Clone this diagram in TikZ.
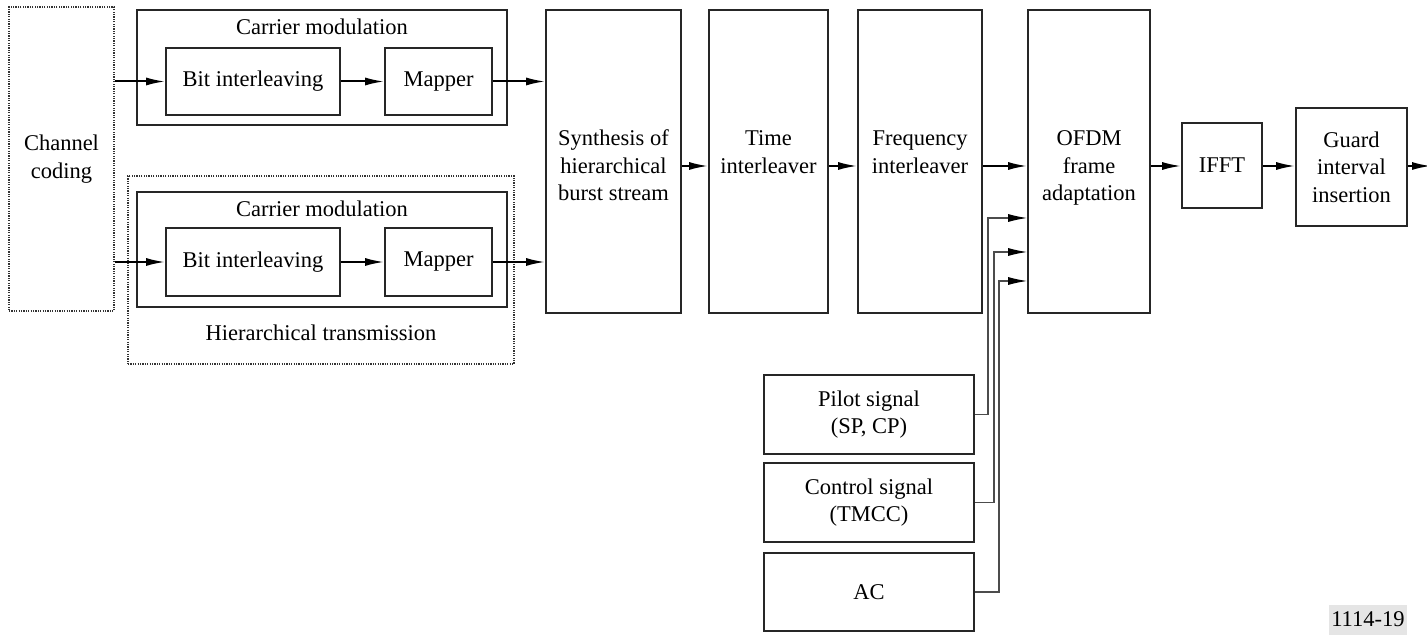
\documentclass[tikz,border=0pt]{standalone}
\usepackage{fontspec}
\setmainfont{Liberation Serif}
\usetikzlibrary{arrows.meta}

% one unit of the picture is one pixel of the layout
\def\px{0.5pt}

\tikzset{
  box/.style={draw=black!85, line width=0.8pt, inner sep=0pt, align=center},
  dotbox/.style={draw=black!80, line width=0.6pt, dash pattern=on 0.6pt off 0.6pt, inner sep=0pt, align=center},
  txt/.style={inner sep=0pt, align=center},
  flow/.style={line width=1pt, -{Latex[length=9.5pt,width=4pt]}},
  feed/.style={line width=0.6pt, draw=black!70, -{Latex[length=9.5pt,width=4pt,color=black]}},
}

\begin{document}
\begin{tikzpicture}[x=0.5pt, y=-0.5pt, font=\fontsize{11.25}{13.75}\selectfont]

\useasboundingbox (0,0) rectangle (1427,635);

% Channel coding
\node[dotbox, minimum width=105*\px, minimum height=304*\px] (chan) at (61.5,159) {Channel\\coding};

% Upper carrier modulation
\node[box, minimum width=370*\px, minimum height=115*\px] (cm1) at (322,67.5) {};
\node[txt] (cm1lbl) at (322,27) {Carrier modulation};
\node[box, minimum width=174*\px, minimum height=67*\px] (bi1) at (253,81.5) {Bit interleaving};
\node[box, minimum width=107*\px, minimum height=67*\px] (map1) at (438.5,81.5) {Mapper};

% Hierarchical transmission
\node[dotbox, minimum width=386*\px, minimum height=188*\px] (hier) at (321,270) {};
\node[txt] (hierlbl) at (321,333) {Hierarchical transmission};
\node[box, minimum width=370*\px, minimum height=115*\px] (cm2) at (322,249.5) {};
\node[txt] (cm2lbl) at (322,209) {Carrier modulation};
\node[box, minimum width=174*\px, minimum height=68*\px] (bi2) at (253,262) {Bit interleaving};
\node[box, minimum width=107*\px, minimum height=68*\px] (map2) at (438.5,262) {Mapper};

% Main chain
\node[box, minimum width=135*\px, minimum height=303*\px] (syn) at (613.5,161.5) {};
\node[txt] (syntxt) at (613.5,165.5) {Synthesis of\\hierarchical\\burst stream};
\node[box, minimum width=119*\px, minimum height=303*\px] (time) at (768.5,161.5) {};
\node[txt] (timetxt) at (768.5,152) {Time\\interleaver};
\node[box, minimum width=124*\px, minimum height=303*\px] (freq) at (920,161.5) {};
\node[txt] (freqtxt) at (920,152) {Frequency\\interleaver};
\node[box, minimum width=122*\px, minimum height=303*\px] (ofdm) at (1089,161.5) {};
\node[txt] (ofdmtxt) at (1089,168) {OFDM\\frame\\adaptation};
\node[box, minimum width=80*\px, minimum height=85*\px] (ifft) at (1222,165.5) {IFFT};
\node[box, minimum width=111*\px, minimum height=118*\px] (guard) at (1351.5,167) {Guard\\interval\\insertion};

% Side inputs
\node[box, minimum width=210*\px, minimum height=79*\px] (pilot) at (869,414.5) {Pilot signal\\(SP, CP)};
\node[box, minimum width=210*\px, minimum height=79*\px] (ctrl) at (869,502.5) {Control signal\\(TMCC)};
\node[box, minimum width=210*\px, minimum height=78*\px] (ac) at (869,592) {AC};

% Figure number
\node[fill=black!10, inner xsep=1pt, inner ysep=0pt, minimum height=30*\px, anchor=south east] (figno) at (1407,635) {1114-19};

% Arrows of the two branches
\draw[flow] (chan.east |- bi1.west) -- (bi1.west);
\draw[flow] (bi1) -- (map1);
\draw[flow] (map1) -- (map1 -| syn.west);
\draw[flow] (chan.east |- bi2.west) -- (bi2.west);
\draw[flow] (bi2) -- (map2);
\draw[flow] (map2) -- (map2 -| syn.west);

% Arrows of the main chain
\coordinate (row) at (0,166);
\coordinate (out) at (1431,166);
\draw[flow] (syn.east |- row) -- (time.west |- row);
\draw[flow] (time.east |- row) -- (freq.west |- row);
\draw[flow] (freq.east |- row) -- (ofdm.west |- row);
\draw[flow] (ofdm.east |- row) -- (ifft.west |- row);
\draw[flow] (ifft.east |- row) -- (guard.west |- row);
\draw[flow] (guard.east |- row) -- (out);

% Feeds into the frame adaptation
\coordinate (kp) at (988,218);
\coordinate (kc) at (994,252);
\coordinate (ka) at (999,281);
\draw[feed] (pilot.east) -| (kp) -- (kp -| ofdm.west);
\draw[feed] (ctrl.east) -| (kc) -- (kc -| ofdm.west);
\draw[feed] (ac.east) -| (ka) -- (ka -| ofdm.west);

\end{tikzpicture}
\end{document}
